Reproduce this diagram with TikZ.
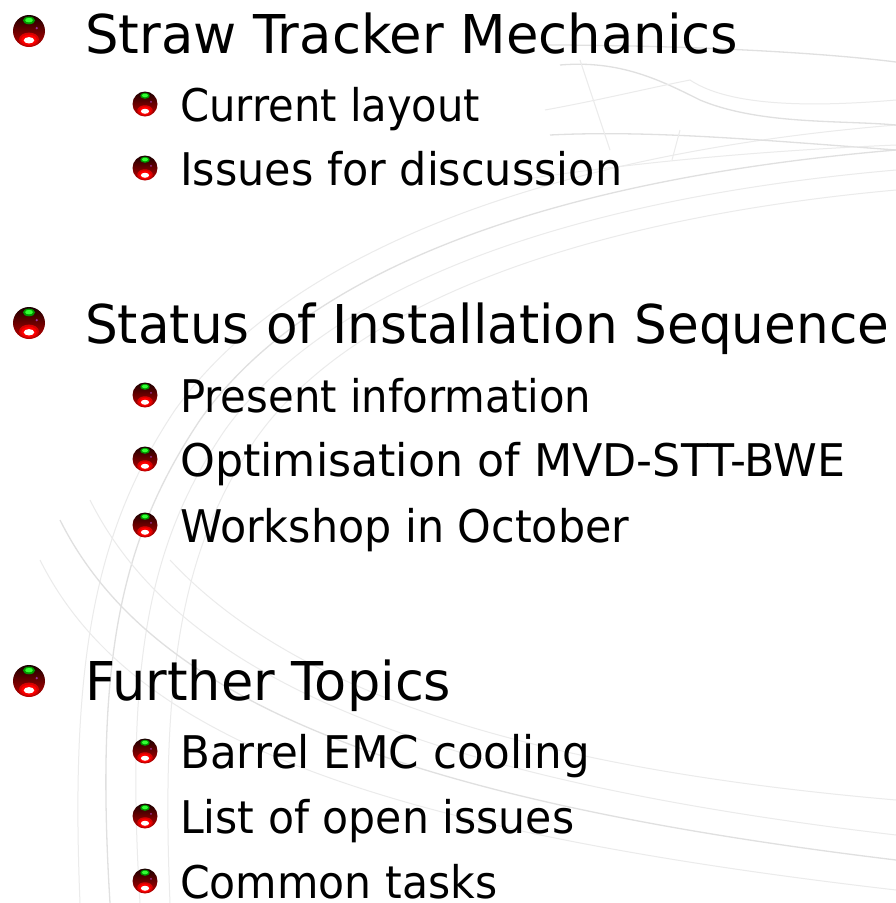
\documentclass[tikz,border=0pt]{standalone}
\usepackage{fontspec}
\setmainfont{DejaVu Sans}
\usepackage{graphicx}
\tikzset{
  pics/ball/.style={code={
    \begin{scope}[x=#1,y=#1]
      \shade[top color=black!90!red, bottom color=red!75!black] (0,0) circle (1);
      \fill[red!85!black] (0,-0.52) ellipse (0.62 and 0.42);
      \fill[red] (0,-0.55) ellipse (0.48 and 0.32);
      \fill[white] (0,-0.58) ellipse (0.33 and 0.2);
      \fill[green!60!black] (0,0.66) ellipse (0.38 and 0.24);
      \fill[green!80!white] (0,0.68) ellipse (0.24 and 0.14);
      \fill[violet!80!white] (0.48,0.18) circle (0.08);
    \end{scope}
  }},
  lvlone/.style={anchor=base west, inner sep=0pt, font=\fontsize{53.5}{60}\selectfont},
  lvltwo/.style={anchor=base west, inner sep=0pt, font=\fontsize{45}{52}\selectfont},
  sketch/.style={draw=black!12, line width=1.3pt},
  sketchlight/.style={draw=black!8, line width=1pt}
}
\begin{document}
\begin{tikzpicture}[x=1pt,y=-1pt]
\useasboundingbox[fill=white] (0,0) rectangle (896,903);
% background sketch (faint)
\draw[sketch] (896,150) .. controls (600,175) and (320,250) .. (200,420) .. controls (120,540) and (95,660) .. (110,903);
\draw[sketchlight] (896,170) .. controls (610,195) and (340,270) .. (225,430) .. controls (150,540) and (125,660) .. (140,903);
\draw[sketchlight] (896,125) .. controls (590,150) and (300,235) .. (175,410) .. controls (95,530) and (70,660) .. (80,903);
\draw[sketchlight] (896,190) .. controls (620,215) and (360,290) .. (255,440) .. controls (185,545) and (160,660) .. (170,903);
\draw[sketch] (60,520) .. controls (150,700) and (400,800) .. (896,860);
\draw[sketchlight] (90,500) .. controls (180,680) and (430,780) .. (896,835);
\draw[sketchlight] (40,560) .. controls (130,740) and (380,830) .. (896,890);
\draw[sketchlight] (170,560) .. controls (300,700) and (550,770) .. (896,800);
% top-right sketch
\draw[sketch] (545,45) .. controls (650,45) and (800,50) .. (896,62);
\draw[sketch] (560,65) .. controls (620,60) and (660,80) .. (700,100) .. controls (760,125) and (840,120) .. (896,125);
\draw[sketchlight] (545,110) .. controls (600,100) and (640,90) .. (690,80) .. controls (720,100) and (780,110) .. (896,100);
\draw[sketch] (550,135) .. controls (650,130) and (760,140) .. (896,150);
\draw[sketchlight] (580,60) -- (610,150);
\draw[sketchlight] (680,130) -- (672,160);
\draw[sketchlight] (520,180) .. controls (650,160) and (780,150) .. (896,145);
% bullets
\pic (b1) at (29,323-292) {ball=16pt};
\pic (b2) at (29,323) {ball=16pt};
\pic (b3) at (29,681) {ball=16pt};
\pic (s1) at (145,104) {ball=12.5pt};
\pic (s2) at (145,168) {ball=12.5pt};
\pic (s3) at (145,395) {ball=12.5pt};
\pic (s4) at (145,459) {ball=12.5pt};
\pic (s5) at (145,525) {ball=12.5pt};
\pic (s6) at (145,751) {ball=12.5pt};
\pic (s7) at (145,816) {ball=12.5pt};
\pic (s8) at (145,881) {ball=12.5pt};
% text
\node[lvlone] (t1) at (85,53) {\resizebox{653pt}{\height}{Straw Tracker Mechanics}};
\node[lvltwo] (t11) at (180,121) {\resizebox{300pt}{\height}{Current layout}};
\node[lvltwo] (t12) at (180,185) {\resizebox{442pt}{\height}{Issues for discussion}};
\node[lvlone] (t2) at (85,343) {\resizebox{804pt}{\height}{Status of Installation Sequence}};
\node[lvltwo] (t21) at (180,412) {\resizebox{411pt}{\height}{Present information}};
\node[lvltwo] (t22) at (180,476) {\resizebox{665pt}{\height}{Optimisation of MVD-STT-BWE}};
\node[lvltwo] (t23) at (180,542) {\resizebox{449pt}{\height}{Workshop in October}};
\node[lvlone] (t3) at (85,700) {\resizebox{366pt}{\height}{Further Topics}};
\node[lvltwo] (t31) at (180,768) {\resizebox{410pt}{\height}{Barrel EMC cooling}};
\node[lvltwo] (t32) at (180,833) {\resizebox{394pt}{\height}{List of open issues}};
\node[lvltwo] (t33) at (180,898) {\resizebox{317pt}{\height}{Common tasks}};
\end{tikzpicture}
\end{document}
